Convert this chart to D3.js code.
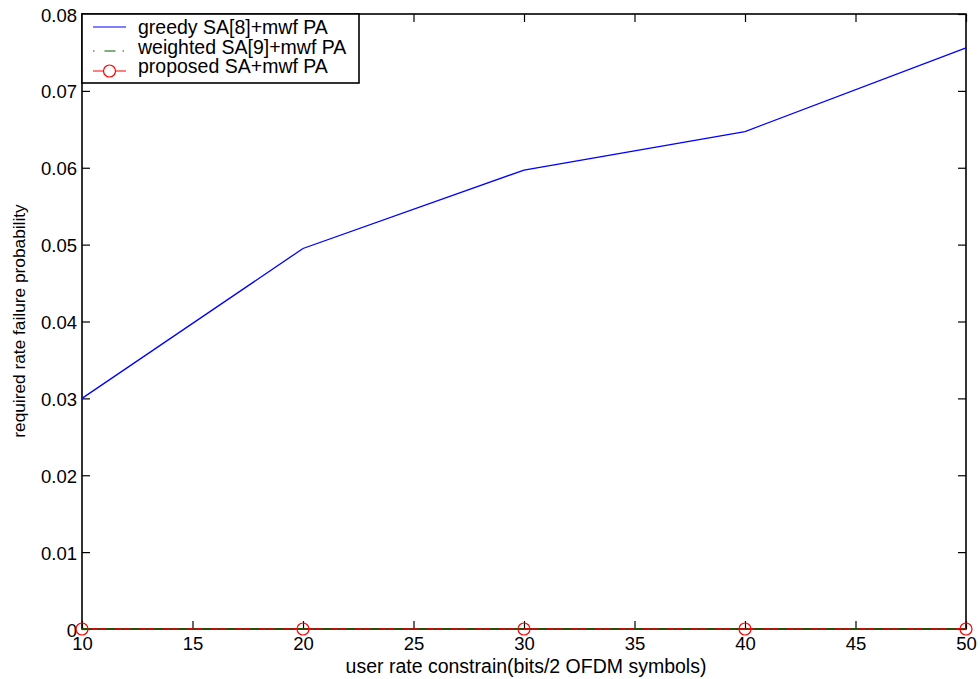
<!DOCTYPE html>
<html>
<head>
<meta charset="utf-8">
<script src="https://cdn.jsdelivr.net/npm/d3@7"></script>
<style>
  html, body { margin: 0; padding: 0; background: #fff; }
  svg { display: block; }
  text { font-family: "Liberation Sans", Arial, Helvetica, sans-serif; fill: #000; }
</style>
</head>
<body>
<svg id="chart" width="980" height="679"></svg>
<script>
// User rate constraint (bits per 2 OFDM symbols)
const rates = [10, 20, 30, 40, 50];
// Required-rate failure probability per allocation scheme
const greedy = [0.0300, 0.0495, 0.0597, 0.0647, 0.0756];
const weighted = [0, 0, 0, 0, 0];
const proposed = [0, 0, 0, 0, 0];

const seriesNames = ["greedy SA[8]+mwf PA", "weighted SA[9]+mwf PA", "proposed SA+mwf PA"];
const xTicks = [10, 15, 20, 25, 30, 35, 40, 45, 50];
const yTicks = [0, 0.01, 0.02, 0.03, 0.04, 0.05, 0.06, 0.07, 0.08];
const xLabel = "user rate constrain(bits/2 OFDM symbols)";
const yLabel = "required rate failure probability";

const svg = d3.select("#chart");
const plotLeft = 82, plotRight = 966, plotTop = 14, plotBottom = 629;

const x = d3.scaleLinear().domain([10, 50]).range([plotLeft, plotRight]);
const y = d3.scaleLinear().domain([0, 0.08]).range([plotBottom, plotTop]);

const tickLen = 8;
const tickFont = 18.5;
const fmtY = d => d === 0 ? "0" : d3.format(".2f")(d);

// Frame
svg.append("rect")
  .attr("x", plotLeft).attr("y", plotTop)
  .attr("width", plotRight - plotLeft).attr("height", plotBottom - plotTop)
  .attr("fill", "none").attr("stroke", "#000").attr("stroke-width", 1.6);

// Bottom axis (inward ticks)
const xAxis = svg.append("g").attr("transform", `translate(0,${plotBottom})`)
  .call(d3.axisBottom(x).tickValues(xTicks).tickSizeInner(-tickLen).tickSizeOuter(0).tickPadding(8).tickFormat(d3.format("d")));
xAxis.select(".domain").remove();
xAxis.selectAll("text").attr("font-size", tickFont).attr("font-family", "Liberation Sans, Arial, sans-serif").attr("dy", "0.71em");
// Top mirrored ticks
const xTop = svg.append("g").attr("transform", `translate(0,${plotTop})`)
  .call(d3.axisTop(x).tickValues(xTicks).tickSizeInner(-tickLen).tickSizeOuter(0).tickFormat(""));
xTop.select(".domain").remove();

// Left axis
const yAxis = svg.append("g").attr("transform", `translate(${plotLeft},0)`)
  .call(d3.axisLeft(y).tickValues(yTicks).tickSizeInner(-tickLen).tickSizeOuter(0).tickPadding(5).tickFormat(fmtY));
yAxis.select(".domain").remove();
yAxis.selectAll("text").attr("font-size", tickFont).attr("font-family", "Liberation Sans, Arial, sans-serif").attr("dy", "0.38em");
// Right mirrored ticks
const yRight = svg.append("g").attr("transform", `translate(${plotRight},0)`)
  .call(d3.axisRight(y).tickValues(yTicks).tickSizeInner(-tickLen).tickSizeOuter(0).tickFormat(""));
yRight.select(".domain").remove();

svg.selectAll(".tick line").attr("stroke", "#000").attr("stroke-width", 1.2);

const line = d3.line().x((d, i) => x(rates[i])).y(d => y(d));

// Series
svg.append("path").datum(greedy).attr("d", line)
  .attr("fill", "none").attr("stroke", "#0000ff").attr("stroke-width", 1.3);
svg.append("path").datum(proposed).attr("d", line)
  .attr("fill", "none").attr("stroke", "#ff0000").attr("stroke-width", 1.6);
svg.append("path").datum(weighted).attr("d", line)
  .attr("fill", "none").attr("stroke", "#006000").attr("stroke-width", 1.6)
  .attr("stroke-dasharray", "10,6,2,6");
svg.selectAll("circle.prop").data(proposed).join("circle")
  .attr("class", "prop")
  .attr("cx", (d, i) => x(rates[i])).attr("cy", d => y(d)).attr("r", 6)
  .attr("fill", "none").attr("stroke", "#ff0000").attr("stroke-width", 1.2);

// Legend
const lg = svg.append("g");
lg.append("rect").attr("x", plotLeft).attr("y", plotTop).attr("width", 277).attr("height", 69)
  .attr("fill", "#fff").attr("stroke", "#000").attr("stroke-width", 1.6);
const sampleY = [27, 51, 71];
const textY = [34, 54, 73];
const styles = [
  { stroke: "#0000ff", dash: null, marker: false },
  { stroke: "#006000", dash: "1.5,10,11,7,1.5,30", marker: false },
  { stroke: "#ff0000", dash: null, marker: true }
];
seriesNames.forEach((name, i) => {
  const yy = sampleY[i];
  lg.append("line").attr("x1", 93).attr("x2", 126).attr("y1", yy).attr("y2", yy)
    .attr("stroke", styles[i].stroke).attr("stroke-width", 1.2)
    .attr("stroke-dasharray", styles[i].dash);
  if (styles[i].marker) {
    lg.append("circle").attr("cx", 109.5).attr("cy", yy).attr("r", 6)
      .attr("fill", "#fff").attr("stroke", "#ff0000").attr("stroke-width", 1.2);
  }
  lg.append("text").attr("x", 138).attr("y", textY[i]).attr("font-size", 19.5)
    .text(name);
});

// Axis titles
svg.append("text").attr("x", 526).attr("y", 673)
  .attr("text-anchor", "middle").attr("font-size", 19.5).text(xLabel);
svg.append("text").attr("transform", "translate(25,321) rotate(-90)")
  .attr("text-anchor", "middle").attr("font-size", 17.3).text(yLabel);
</script>
</body>
</html>
